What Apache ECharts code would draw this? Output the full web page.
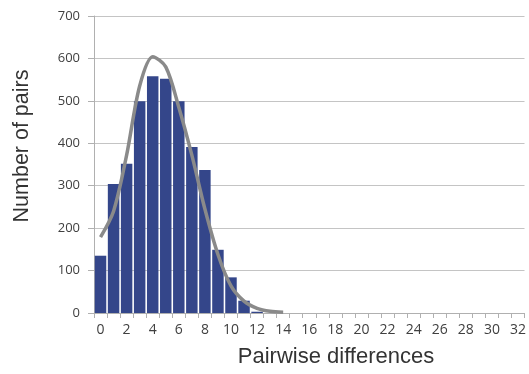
<!DOCTYPE html>
<html>
<head>
<meta charset="utf-8">
<script src="https://cdn.jsdelivr.net/npm/echarts@6/dist/echarts.min.js"></script>
<style>
    html, body { margin: 0; padding: 0; background: #fff; }
    #chart { width: 529px; height: 374px; }
</style>
</head>
<body>
<div id="chart"></div>
<script>
// 横轴：成对差异数 0..32
const categories = [];
for (let i = 0; i <= 32; i++) categories.push(String(i));

// 柱子高度
const pairCounts = [135, 304, 352, 499, 558, 552, 499, 391, 337, 149, 84, 29, 3,
    0, 0, 0, 0, 0, 0, 0, 0, 0, 0, 0, 0, 0, 0, 0, 0, 0, 0, 0, 0];

// 拟合曲线（只到 14）
const fitCurve = [179, 240, 372, 535, 604, 580, 485, 372, 245, 138, 64, 28, 11, 4, 2];

const yTicks = { min: 0, max: 700, interval: 100 };

const myChart = echarts.init(document.getElementById('chart'));
myChart.setOption({
    animation: false,
    grid: { left: 94, right: 4, top: 16, bottom: 61 },
    graphic: [
        {
            type: 'text',
            x: 22, y: 146, rotation: Math.PI / 2,
            style: {
                text: 'Number of pairs', fill: '#333', fontSize: 21.5,
                fontFamily: 'Liberation Sans', align: 'center', verticalAlign: 'middle'
            }
        },
        {
            type: 'text',
            x: 336, y: 357,
            style: {
                text: 'Pairwise differences', fill: '#333', fontSize: 22,
                fontFamily: 'Liberation Sans', align: 'center', verticalAlign: 'middle'
            }
        }
    ],
    xAxis: {
        type: 'category',
        data: categories,
        boundaryGap: true,
        axisLine: { lineStyle: { color: '#b0b0b0', width: 1 } },
        axisTick: { show: true, interval: 0, length: 5, lineStyle: { color: '#b0b0b0' } },
        axisLabel: { interval: 1, fontSize: 14, color: '#404040', margin: 10, fontFamily: 'Open Sans' },
        splitLine: { show: false }
    },
    yAxis: {
        type: 'value',
        min: yTicks.min,
        max: yTicks.max,
        interval: yTicks.interval,
        axisLine: { show: true, lineStyle: { color: '#b0b0b0' } },
        axisTick: { show: true, length: 6, lineStyle: { color: '#b0b0b0' } },
        axisLabel: { fontSize: 13, color: '#404040', margin: 14, fontFamily: 'Open Sans' },
        splitLine: { lineStyle: { color: '#c4c4c4', width: 1 } }
    },
    series: [
        {
            type: 'bar',
            data: pairCounts,
            barCategoryGap: '12%',
            itemStyle: { color: '#34468a' }
        },
        {
            type: 'line',
            data: fitCurve,
            smooth: 0.3,
            symbol: 'none',
            lineStyle: { color: '#8a8a8a', width: 3.5 },
            z: 5
        }
    ]
});
</script>
</body>
</html>
